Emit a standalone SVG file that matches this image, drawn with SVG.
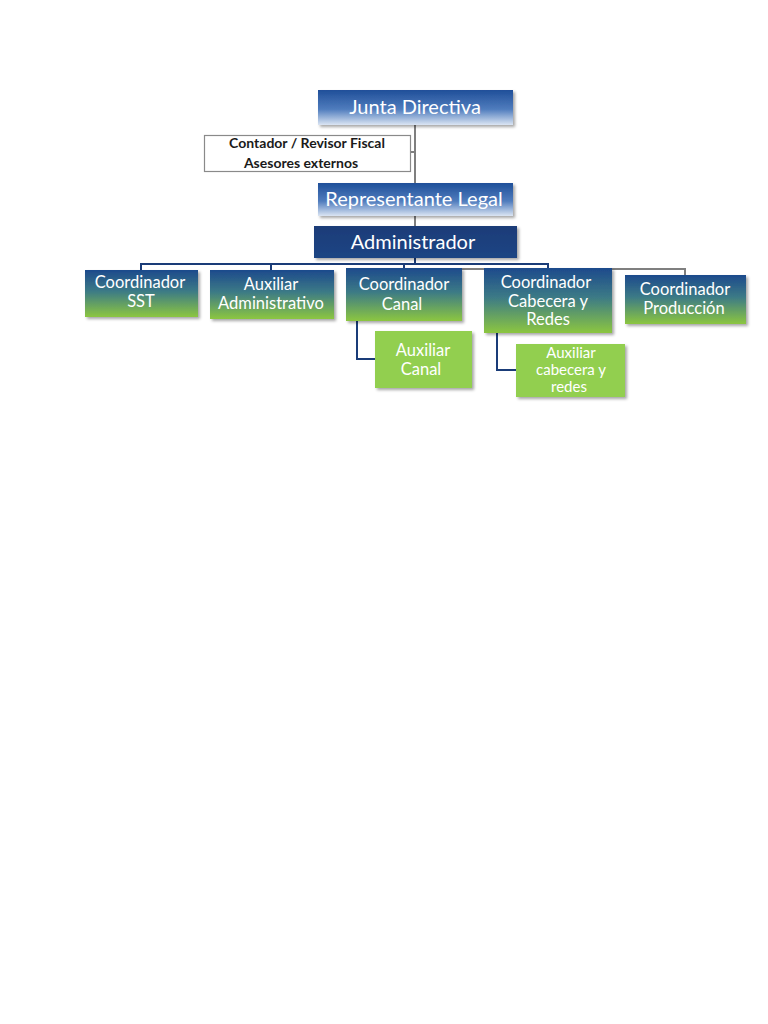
<svg xmlns="http://www.w3.org/2000/svg" width="768" height="1024" viewBox="0 0 768 1024">
<defs>
<linearGradient id="gBlue" x1="0" y1="0" x2="0" y2="1">
<stop offset="0" stop-color="#1f4f99"/><stop offset="0.55" stop-color="#4f7cbd"/><stop offset="1" stop-color="#dbe5f3"/>
</linearGradient>
<linearGradient id="gNavy" x1="0" y1="0" x2="0" y2="1">
<stop offset="0" stop-color="#1a3c78"/><stop offset="1" stop-color="#1c4584"/>
</linearGradient>
<linearGradient id="gGreen" x1="0" y1="0" x2="0" y2="1">
<stop offset="0" stop-color="#1d4a8c"/><stop offset="0.45" stop-color="#3c7a86"/><stop offset="1" stop-color="#8cc640"/>
</linearGradient>
<filter id="sh" x="-10%" y="-10%" width="125%" height="140%">
<feDropShadow dx="2" dy="2" stdDeviation="1.5" flood-color="#000" flood-opacity="0.35"/>
</filter>
<style>
.t{font-family:Lato,"Open Sans","Liberation Sans",sans-serif;fill:#fff;text-anchor:middle}
.big{font-size:20px}
.mid{font-size:16.5px}
.sm{font-size:15px}
.dark{font-family:Lato,"Liberation Sans",sans-serif;fill:#1a1a1a;font-size:14px;font-weight:bold;text-anchor:middle}
.blue{stroke:#1a3c78;stroke-width:2;fill:none}
.gray{stroke:#7f7f7f;stroke-width:2;fill:none}
</style>
</defs>
<rect width="768" height="1024" fill="#fff"/>
<g id="connectors">
<path class="gray" d="M415 125V226"/>
<path class="gray" d="M411 152H415"/>
<path class="gray" d="M404 269H685V276"/>
<path class="blue" d="M415 258V264"/>
<path class="blue" d="M141 270V264H548V268"/>
<path class="blue" d="M271 264V270"/>
<path class="blue" d="M404 264V268"/>
<path class="blue" d="M357 321V359H375"/>
<path class="blue" d="M497 333V370H516"/>
</g>
<g id="junta"><rect x="318" y="90" width="195" height="35" fill="url(#gBlue)" filter="url(#sh)"/><text class="t big" x="415" y="114">Junta Directiva</text></g>
<g id="contador"><rect x="204.5" y="135.5" width="206" height="36" fill="#fff" stroke="#8a8a8a" stroke-width="1.2"/><text class="dark" x="307" y="148">Contador / Revisor Fiscal</text><text class="dark" x="301" y="168">Asesores  externos</text></g>
<g id="representante"><rect x="318" y="183" width="195" height="33" fill="url(#gBlue)" filter="url(#sh)"/><text class="t big" x="414" y="206">Representante Legal</text></g>
<g id="administrador"><rect x="314" y="226" width="203" height="32" fill="url(#gNavy)" filter="url(#sh)"/><text class="t big" x="413" y="249">Administrador</text></g>
<g id="sst"><rect x="85" y="270" width="113" height="47" fill="url(#gGreen)" filter="url(#sh)"/><text class="t mid" x="140" y="288">Coordinador</text><text class="t mid" x="141" y="307">SST</text></g>
<g id="auxadmin"><rect x="210" y="270" width="124" height="49" fill="url(#gGreen)" filter="url(#sh)"/><text class="t mid" x="271" y="290">Auxiliar</text><text class="t mid" x="271" y="309">Administrativo</text></g>
<g id="canal"><rect x="346" y="268" width="116" height="53" fill="url(#gGreen)" filter="url(#sh)"/><text class="t mid" x="404" y="290">Coordinador</text><text class="t mid" x="402" y="310">Canal</text></g>
<g id="cabecera"><rect x="484" y="268" width="128" height="65" fill="url(#gGreen)" filter="url(#sh)"/><text class="t mid" x="546" y="288">Coordinador</text><text class="t mid" x="548" y="307">Cabecera y</text><text class="t mid" x="548" y="325">Redes</text></g>
<g id="produccion"><rect x="625" y="275" width="121" height="49" fill="url(#gGreen)" filter="url(#sh)"/><text class="t mid" x="685" y="295">Coordinador</text><text class="t mid" x="684" y="314">Producción</text></g>
<g id="auxcanal"><rect x="375" y="331" width="97" height="57" fill="#92cf50" filter="url(#sh)"/><text class="t mid" x="423" y="356">Auxiliar</text><text class="t mid" x="421" y="375">Canal</text></g>
<g id="auxcabecera"><rect x="516" y="344" width="109" height="53" fill="#92cf50" filter="url(#sh)"/><text class="t sm" x="571" y="358">Auxiliar</text><text class="t sm" x="571" y="375">cabecera y</text><text class="t sm" x="569" y="392">redes</text></g>
</svg>
